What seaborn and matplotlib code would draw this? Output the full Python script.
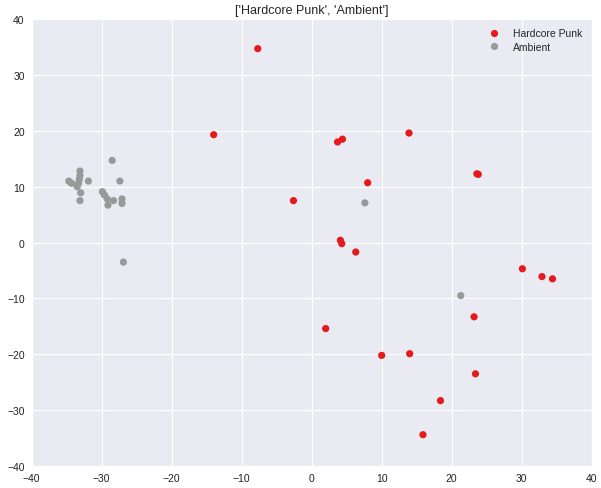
import pandas as pd
import seaborn as sns
import matplotlib
matplotlib.use('Agg')
import matplotlib.pyplot as plt

# Points (2d embedding, two genres)
punk_x = [-7.7, -14.0, 3.7, 4.4, 13.9, 23.6, 23.8, 8.0, -2.6, 4.1, 4.3, 6.3,
          2.0, 23.2, 10.0, 14.0, 23.4, 18.4, 15.9, 30.1, 32.9, 34.4]
punk_y = [34.7, 19.3, 18.0, 18.5, 19.6, 12.3, 12.2, 10.7, 7.5, 0.4, -0.2, -1.7,
          -15.4, -13.3, -20.2, -19.9, -23.5, -28.3, -34.4, -4.7, -6.1, -6.5]

ambient_x = [-34.7, -34.3, -33.1, -33.1, -33.2, -33.3, -33.5, -31.9, -33.0, -33.1,
             -28.5, -27.4, -29.9, -29.6, -29.2, -28.3, -29.1, -27.1, -27.1, -26.9,
             7.6, 21.3]
ambient_y = [11.0, 10.6, 12.8, 12.0, 11.3, 10.6, 10.0, 11.0, 8.9, 7.5,
             14.7, 11.0, 9.1, 8.5, 7.8, 7.5, 6.7, 7.8, 7.0, -3.5,
             7.1, -9.5]

genres = ['Hardcore Punk', 'Ambient']
colors = ['#e41a1c', '#999999']

df = pd.concat([
    pd.DataFrame({'x': punk_x, 'y': punk_y, 'genre': genres[0]}),
    pd.DataFrame({'x': ambient_x, 'y': ambient_y, 'genre': genres[1]}),
])

sns.set_style('darkgrid')
plt.rcParams['font.family'] = ['Liberation Sans', 'DejaVu Sans']

fig = plt.figure(figsize=(6.01, 4.89), dpi=100)
ax = fig.add_axes([0.0527, 0.045, 0.9318, 0.914])

sns.scatterplot(data=df, x='x', y='y', hue='genre', palette=colors,
                hue_order=genres, s=27, linewidth=0, alpha=1, ax=ax)

ax.set_xlim(-40, 40)
ax.set_ylim(-40, 40)
ax.set_xticks(range(-40, 41, 10))
ax.set_yticks(range(-40, 41, 10))
ax.tick_params(labelsize=7.5, length=0, pad=5, labelcolor='#222222')
ax.set_xlabel('')
ax.set_ylabel('')
ax.set_title(str(genres), fontsize=9, pad=4)

handles, labels = ax.get_legend_handles_labels()
ax.legend(handles, labels, loc='upper right', frameon=False, fontsize=7.5,
          handletextpad=0.8, labelspacing=0.3, borderaxespad=0.5)

fig.savefig('out.png', dpi=100)
